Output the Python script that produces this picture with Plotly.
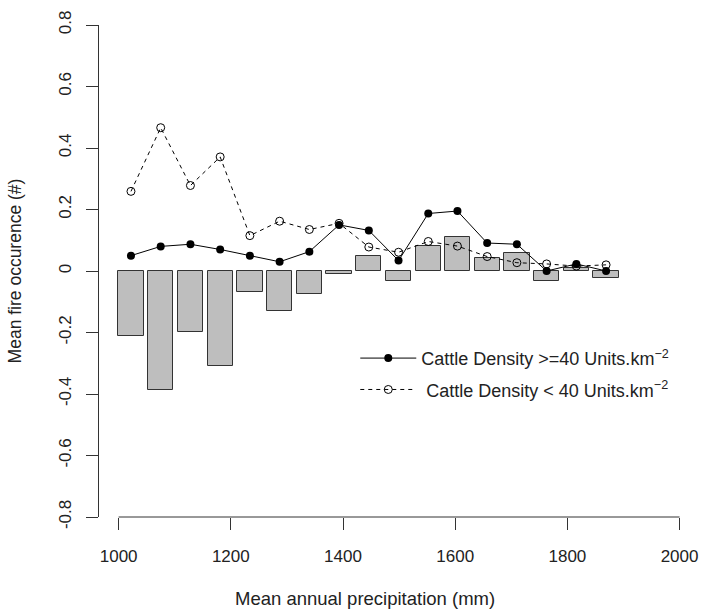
import plotly.graph_objects as go

# Data
precip = [1022, 1075, 1128, 1181, 1234, 1287, 1340, 1393, 1446, 1499,
          1552, 1604, 1657, 1710, 1763, 1816, 1869]
high_density = [0.050, 0.080, 0.087, 0.070, 0.050, 0.030, 0.063, 0.150, 0.132, 0.034,
                0.187, 0.195, 0.091, 0.087, 0.000, 0.023, 0.000]
low_density = [0.259, 0.466, 0.278, 0.371, 0.115, 0.162, 0.135, 0.155, 0.078, 0.061,
               0.096, 0.081, 0.047, 0.027, 0.023, 0.016, 0.020]
difference = [-0.211, -0.387, -0.199, -0.308, -0.067, -0.130, -0.074, -0.009, 0.050, -0.031,
              0.082, 0.111, 0.043, 0.058, -0.031, 0.010, -0.022]

x_ticks = [1000, 1200, 1400, 1600, 1800, 2000]
y_ticks = [-0.8, -0.6, -0.4, -0.2, 0, 0.2, 0.4, 0.6, 0.8]
y_tick_text = ["-0.8", "-0.6", "-0.4", "-0.2", "0", "0.2", "0.4", "0.6", "0.8"]

FONT = "Liberation Sans, Arial, sans-serif"
TXT = "#222222"

fig = go.Figure()

fig.add_trace(go.Bar(
    x=precip, y=difference, width=45,
    marker=dict(color="#BEBEBE", line=dict(color="#333333", width=1)),
    showlegend=False, hoverinfo="skip",
))

fig.add_trace(go.Scatter(
    x=precip, y=high_density, mode="lines+markers",
    name="Cattle Density >=40 Units.km<sup>−2</sup>", legendgroup="a",
    line=dict(color="black", width=1),
    marker=dict(symbol="circle", size=8, color="black"),
))

fig.add_trace(go.Scatter(
    x=precip, y=low_density, mode="lines+markers",
    name="\u00a0Cattle Density < 40 Units.km<sup>−2</sup>", legendgroup="b",
    line=dict(color="black", width=1, dash="4px,4px"),
    marker=dict(symbol="circle-open", size=8, color="black", line=dict(width=1)),
))

# x axis line spanning only the tick range (R style)
fig.add_shape(type="line", xref="x", yref="paper",
              x0=min(x_ticks), x1=max(x_ticks), y0=0, y1=0,
              line=dict(color="#333333", width=1))

# x axis title (placed as in the reference)
fig.add_annotation(text="Mean annual precipitation (mm)", xref="paper", yref="paper",
                   x=0.441, y=-0.165, xanchor="center", yanchor="middle",
                   showarrow=False, font=dict(size=18.5, color=TXT))

fig.update_layout(
    width=704, height=610,
    margin=dict(l=99, r=2, t=25, b=93, pad=0),
    paper_bgcolor="white", plot_bgcolor="white",
    font=dict(family=FONT, size=17, color=TXT),
    bargap=0,
    legend=dict(
        x=0.425, y=0.36, xanchor="left", yanchor="top",
        bgcolor="rgba(0,0,0,0)", font=dict(size=18, color=TXT),
        tracegroupgap=5, itemwidth=56,
    ),
    xaxis=dict(
        range=[965, 2040], tickvals=x_ticks, ticks="outside", ticklen=12,
        tickcolor="#333333", showgrid=False, zeroline=False, showline=False,
        ticklabelstandoff=12,
    ),
    yaxis=dict(
        range=[-0.8, 0.8], tickvals=y_ticks, ticktext=y_tick_text,
        ticks="outside", ticklen=12, tickcolor="#333333", tickangle=-90,
        showgrid=False, zeroline=False, showline=True, linecolor="#333333",
        linewidth=1, ticklabelstandoff=8,
        title=dict(text="Mean fire occurence (#)", standoff=30,
                   font=dict(size=17.5, color=TXT)),
    ),
)

fig.write_html("out.html")
